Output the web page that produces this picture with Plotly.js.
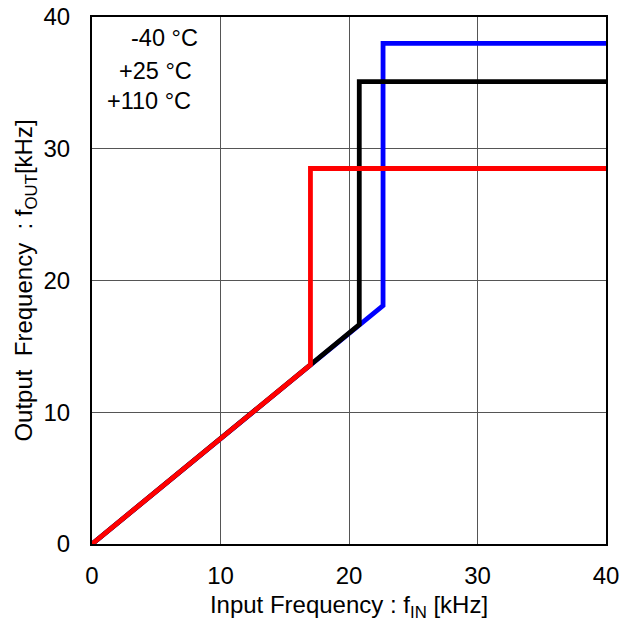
<!DOCTYPE html>
<html>
<head>
<meta charset="utf-8">
<script src="https://cdn.plot.ly/plotly-3.0.1.min.js"></script>
<style>html,body{margin:0;padding:0;background:#fff;}#chart{width:633px;height:627px;}</style>
</head>
<body>
<div id="chart"></div>
<script>
// Data
const xBlue = [0, 22.65, 22.65, 40];
const yBlue = [0, 18.1, 38.0, 38.0];
const xBlack = [0, 20.8, 20.8, 40];
const yBlack = [0, 16.65, 35.1, 35.1];
const xRed = [0, 17.0, 17.0, 40];
const yRed = [0, 13.6, 28.5, 28.5];
const legendLabels = ["-40 °C", "+25 °C", "+110 °C"];
const xTicks = [0, 10, 20, 30, 40];
const yTicks = [0, 10, 20, 30, 40];

const mk = (x, y, c, n) => ({x: x, y: y, type: 'scatter', mode: 'lines', name: n,
  line: {color: c, width: 4.8}, hoverinfo: 'skip'});
const traces = [
  mk(xBlue, yBlue, '#0000ff', legendLabels[0]),
  mk(xBlack, yBlack, '#000000', legendLabels[1]),
  mk(xRed, yRed, '#ff0000', legendLabels[2])
];

const font = {family: 'Liberation Sans, Arial, sans-serif', color: '#000'};
const labelPos = [[5.68, 38.4], [4.94, 35.9], [4.44, 33.6]];
const annotations = legendLabels.map((t, i) => ({
  x: labelPos[i][0], y: labelPos[i][1], xref: 'x', yref: 'y', text: t,
  showarrow: false, xanchor: 'center', yanchor: 'middle',
  font: Object.assign({size: 23.5}, font)
}));

const axisCommon = {
  showgrid: true, gridcolor: '#555', gridwidth: 1,
  zeroline: false, showline: true, linecolor: '#000', linewidth: 2, mirror: true,
  ticks: '', tickfont: Object.assign({size: 24}, font), fixedrange: true
};

const layout = {
  width: 633, height: 627,
  margin: {l: 92, r: 27, t: 17, b: 83},
  paper_bgcolor: '#fff', plot_bgcolor: '#fff',
  showlegend: false,
  font: font,
  xaxis: Object.assign({}, axisCommon, {
    range: [0, 40], tickvals: xTicks, ticktext: xTicks.map(String),
    ticklabelstandoff: 9,
    title: {text: 'Input Frequency : f<sub>IN</sub> [kHz]', font: Object.assign({size: 24}, font), standoff: 8}
  }),
  yaxis: Object.assign({}, axisCommon, {
    range: [0, 40], tickvals: yTicks, ticktext: yTicks.map(String),
    ticklabelstandoff: 15,
    title: {text: 'Output&nbsp;&nbsp;Frequency&nbsp;&nbsp;: f<sub>OUT</sub>[kHz]', font: Object.assign({size: 24}, font), standoff: 4}
  }),
  annotations: annotations
};

Plotly.newPlot('chart', traces, layout, {displayModeBar: false, staticPlot: true});
</script>
</body>
</html>
